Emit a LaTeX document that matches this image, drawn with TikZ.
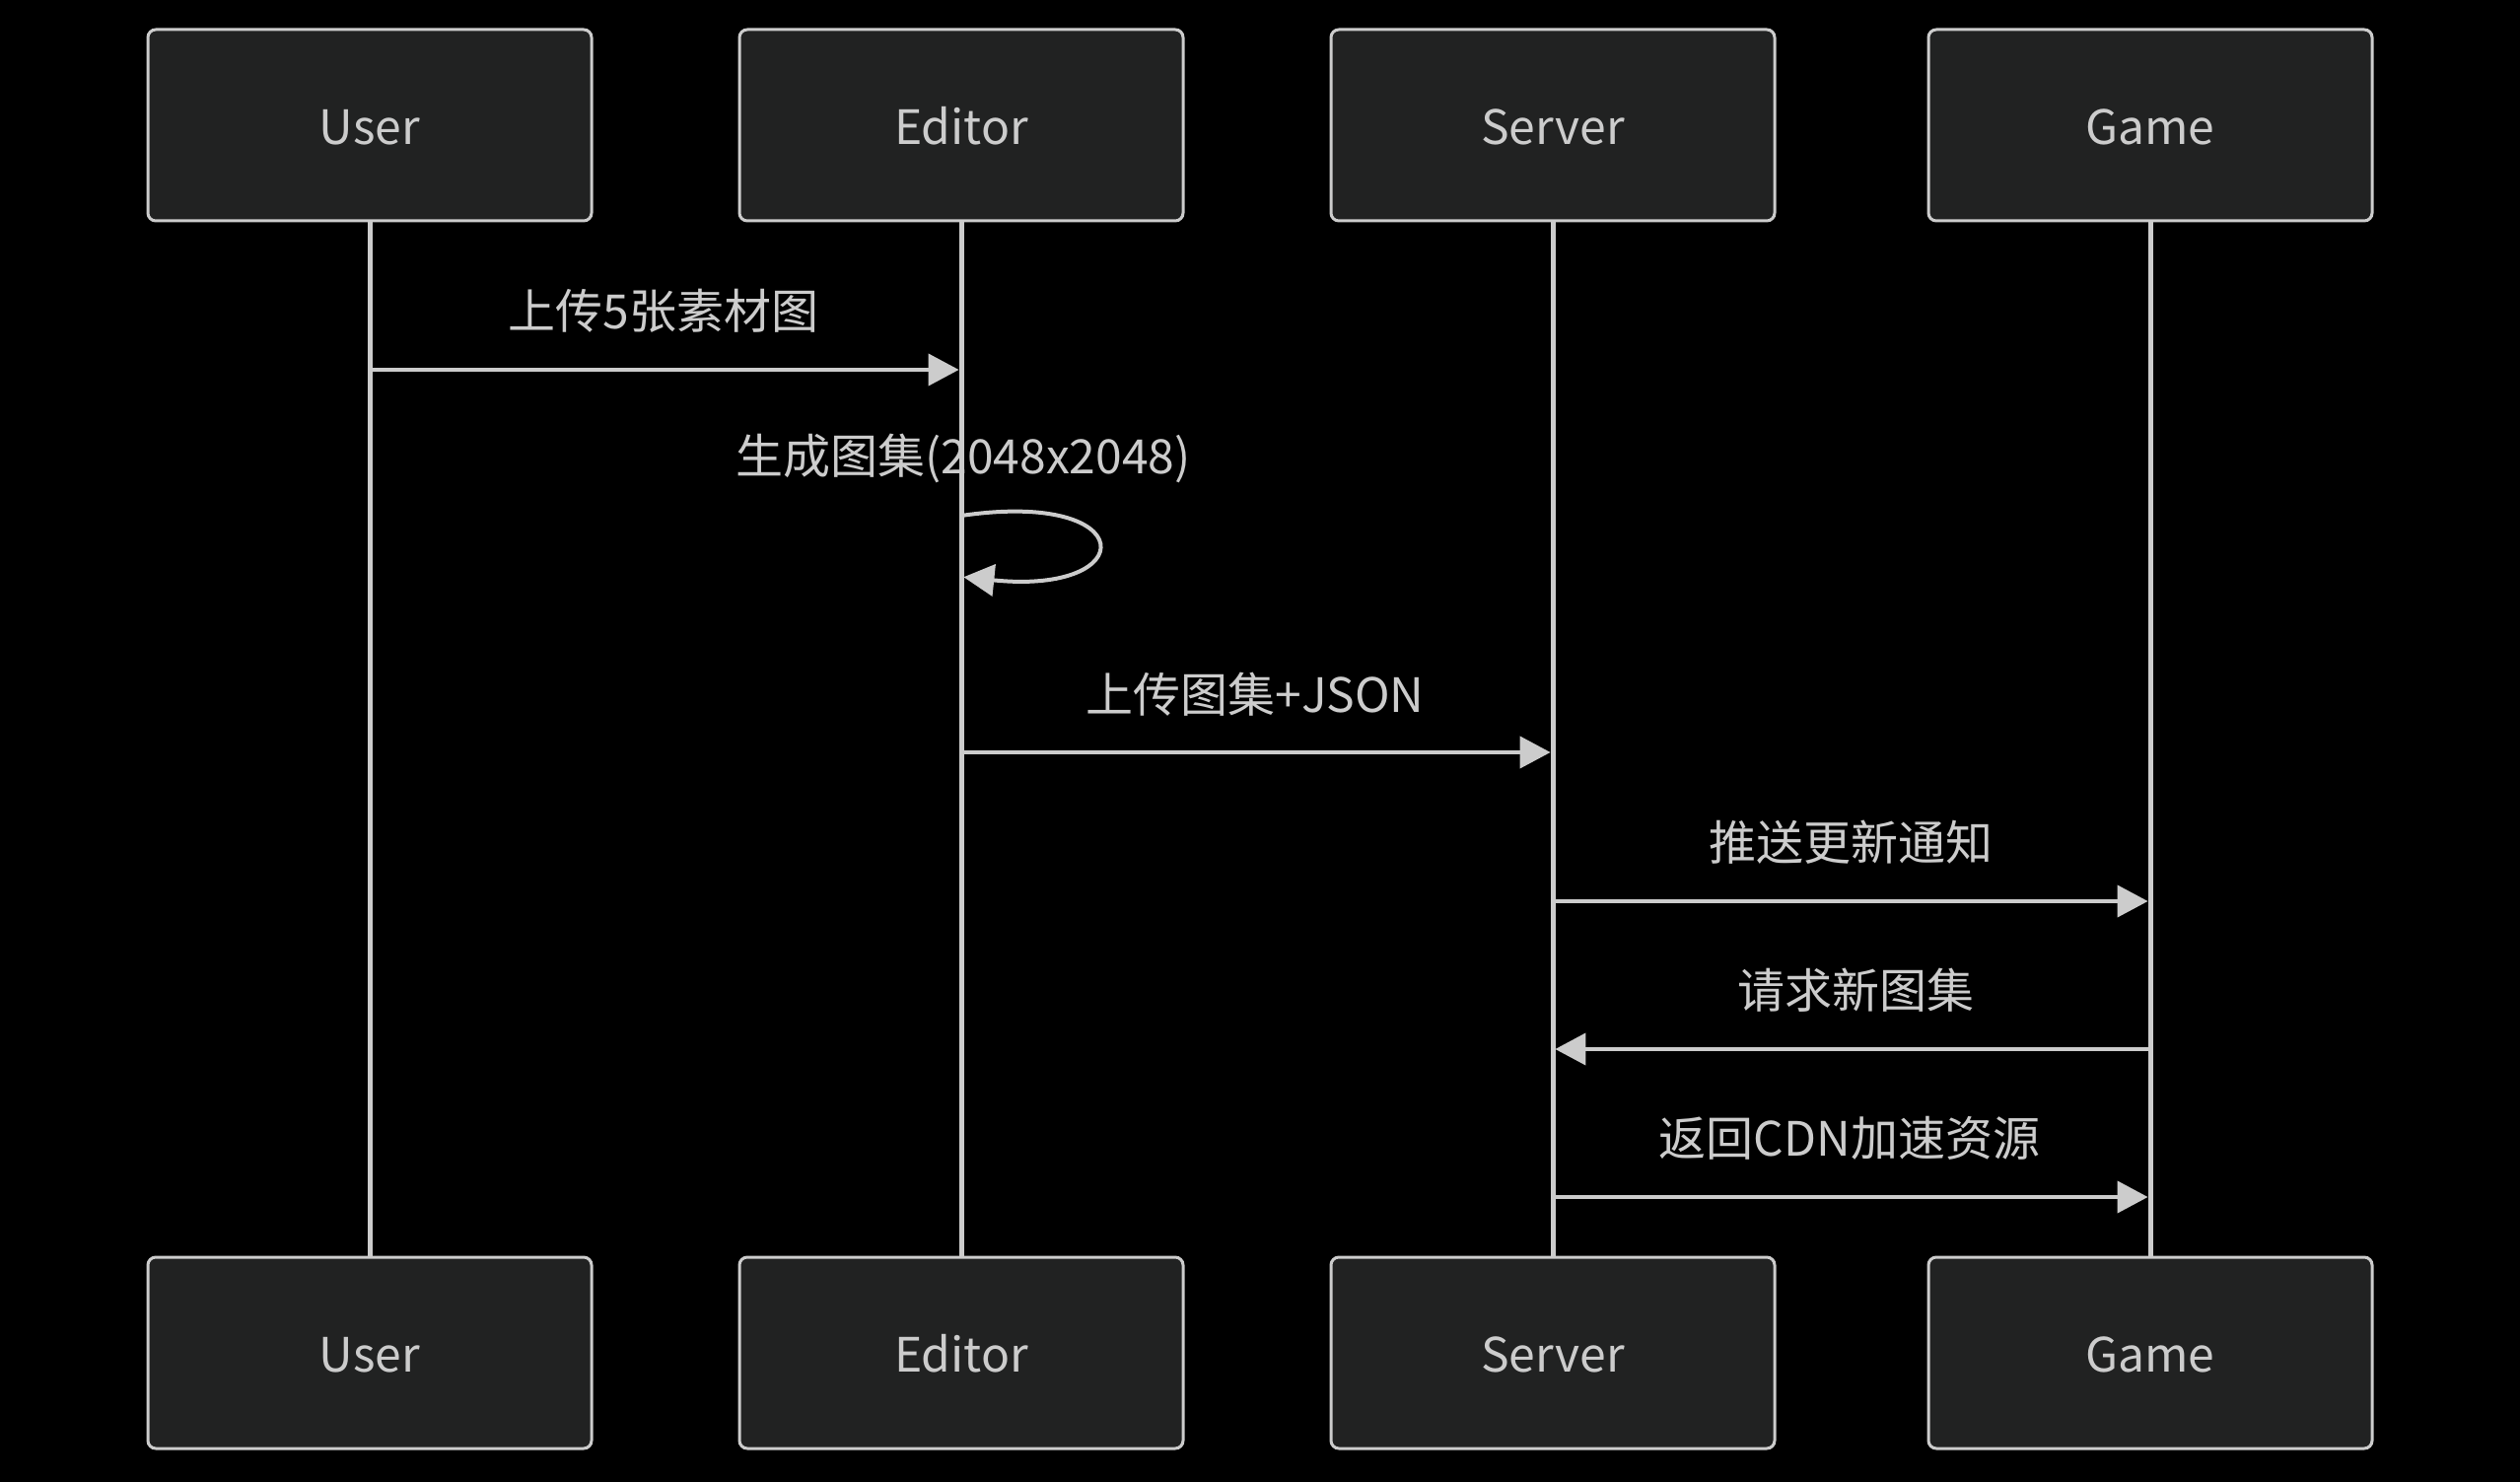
\documentclass[tikz,border=0pt]{standalone}
\usepackage{fontspec}
\setmainfont{Noto Sans CJK SC}
\usetikzlibrary{arrows.meta}
\definecolor{bgc}{HTML}{000000}
\definecolor{boxfill}{HTML}{212222}
\definecolor{fgc}{HTML}{CCCCCC}
\begin{document}
\begin{tikzpicture}[x=0.5pt,y=-0.5pt,
  actor/.style={draw=fgc, fill=boxfill, line width=1.5pt, rounded corners=4pt,
    minimum width=225pt, minimum height=97pt, text=fgc, inner sep=0pt,
    text height=21pt, text depth=1.6pt,
    font=\fontsize{24}{28}\selectfont},
  life/.style={draw=fgc, line width=2.5pt},
  msg/.style={draw=fgc, line width=2pt, -{Triangle[length=15.5pt,width=16pt]}, shorten >=1.2pt},
  lbl/.style={text=fgc, inner sep=0pt, font=\fontsize{24}{28}\selectfont}]
\fill[bgc] (0,0) rectangle (2556,1503);
\useasboundingbox (0,0) rectangle (2556,1503);
% lifelines
\draw[life] (375,225) -- (375,1274);
\draw[life] (975,225) -- (975,1274);
\draw[life] (1575,225) -- (1575,1274);
\draw[life] (2181,225) -- (2181,1274);
% actors
\node[actor] (uT) at (375,127) {User};
\node[actor] (eT) at (975,127) {Editor};
\node[actor] (sT) at (1575,127) {Server};
\node[actor] (gT) at (2181,127) {Game};
\node[actor] (uB) at (375,1372) {User};
\node[actor] (eB) at (975,1372) {Editor};
\node[actor] (sB) at (1575,1372) {Server};
\node[actor] (gB) at (2181,1372) {Game};
% message anchor points
\coordinate (u1) at (375,375);  \coordinate (e1) at (975,375);
\coordinate (e2a) at (975,523); \coordinate (e2b) at (975,585);
\coordinate (e3) at (975,763);  \coordinate (s3) at (1575,763);
\coordinate (s4) at (1575,914); \coordinate (g4) at (2181,914);
\coordinate (g5) at (2181,1064);\coordinate (s5) at (1575,1064);
\coordinate (s6) at (1575,1214);\coordinate (g6) at (2181,1214);
% messages
\node[lbl] (l1) at (673,315) {上传5张素材图};
\draw[msg] (u1) -- (e1);
\node[lbl] (l2) at (977,465) {生成图集(2048x2048)};
\draw[msg] (e2a) .. controls (1158,496) and (1158,604) .. (e2b);
\node[lbl] (l3) at (1273,704) {上传图集+JSON};
\draw[msg] (e3) -- (s3);
\node[lbl] (l4) at (1877,854) {推送更新通知};
\draw[msg] (s4) -- (g4);
\node[lbl] (l5) at (1882,1004) {请求新图集};
\draw[msg] (g5) -- (s5);
\node[lbl] (l6) at (1876,1154) {返回CDN加速资源};
\draw[msg] (s6) -- (g6);
\end{tikzpicture}
\end{document}
